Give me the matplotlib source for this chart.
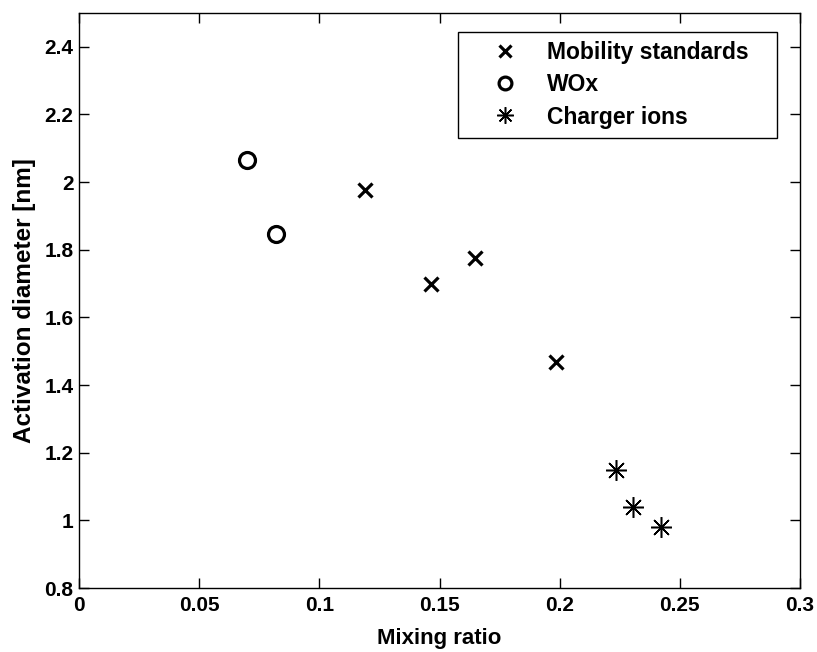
import matplotlib
matplotlib.use("Agg")
import matplotlib.pyplot as plt

plt.rcParams['font.family'] = ['Liberation Sans', 'DejaVu Sans']
plt.rcParams['font.weight'] = 'bold'

mob_x = [0.119, 0.1465, 0.1649, 0.1986]
mob_y = [1.978, 1.698, 1.776, 1.469]
wox_x = [0.0697, 0.0821]
wox_y = [2.065, 1.848]
ion_x = [0.2233, 0.2306, 0.2422]
ion_y = [1.149, 1.039, 0.980]

xticks = [0, 0.05, 0.1, 0.15, 0.2, 0.25, 0.3]
xticklabels = ['0', '0.05', '0.1', '0.15', '0.2', '0.25', '0.3']
yticks = [0.8, 1.0, 1.2, 1.4, 1.6, 1.8, 2.0, 2.2, 2.4]
yticklabels = ['0.8', '1', '1.2', '1.4', '1.6', '1.8', '2', '2.2', '2.4']

fig = plt.figure(figsize=(8.17, 6.52), dpi=100)
ax = fig.add_axes([79/817, 1-588/652, (800-79)/817, (588-13)/652])

ax.plot(mob_x, mob_y, linestyle='none', marker='x', markersize=10.5, markeredgewidth=2.3,
        color='black', label='Mobility standards')
ax.plot(wox_x, wox_y, linestyle='none', marker='o', markersize=11.5, markeredgewidth=2.3,
        markerfacecolor='none', color='black', label='WOx')
ax.plot(ion_x, ion_y, linestyle='none', marker=(8, 2, 0), markersize=15, markeredgewidth=1.1,
        color='black', label='Charger ions')

ax.set_xlim(0, 0.3)
ax.set_ylim(0.8, 2.5)
ax.set_xticks(xticks)
ax.set_xticklabels(xticklabels)
ax.set_yticks(yticks)
ax.set_yticklabels(yticklabels)
ax.tick_params(direction='in', length=7, width=1, top=True, right=True,
               labelsize=15)
ax.tick_params(axis='x', pad=6)
ax.tick_params(axis='y', pad=4)
for s in ax.spines.values():
    s.set_linewidth(1)
ax.set_xlabel('Mixing ratio', fontsize=16, fontweight='bold', labelpad=9)
ax.set_ylabel('Activation diameter [nm]', fontsize=17.5, fontweight='bold', labelpad=6)

leg = ax.legend(loc='upper left', bbox_to_anchor=(458/817, 1-136/652, 319/817, 104/652),
                bbox_transform=fig.transFigure, mode='expand', fancybox=False, framealpha=1,
                edgecolor='black', fontsize=16.5, borderpad=0.4, labelspacing=0.4,
                handlelength=3.3, handletextpad=0.17, borderaxespad=0, markerscale=0.8)
leg.get_frame().set_linewidth(1)

fig.savefig('out.png', dpi=100)
